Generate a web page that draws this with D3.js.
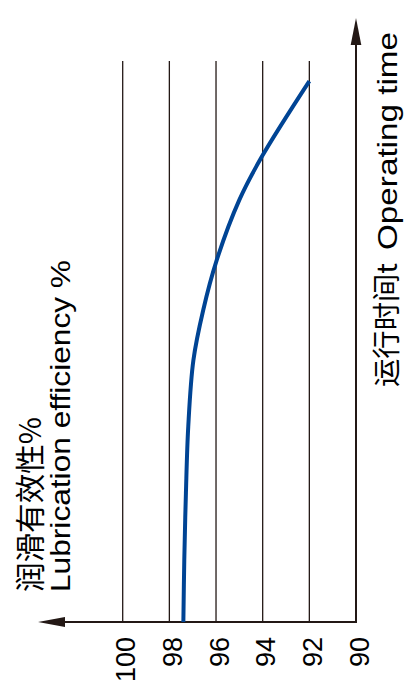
<!DOCTYPE html>
<html>
<head>
<meta charset="utf-8">
<script src="https://cdn.jsdelivr.net/npm/d3@7"></script>
<style>
  body { margin: 0; background: #fff; }
  svg { display: block; }
</style>
</head>
<body>
<div id="chart"></div>
<script>
// chart values (time in arbitrary units, 0 at the bottom axis)
const effTicks = [100, 98, 96, 94, 92, 90];
const timeVals = [0, 1.33, 2.76, 4.18, 5.6, 6.67, 7.74, 9.03, 9.95, 11.57];
const effVals = [97.4, 97.36, 97.29, 97.19, 96.97, 96.55, 95.97, 95.0, 94.04, 92.0];

const width = 405;
const height = 699;
const ink = '#231815';

const svg = d3.select('#chart')
  .append('svg')
  .attr('width', width)
  .attr('height', height);

// efficiency runs left to right (100 -> 90), time runs bottom to top
const x = d3.scaleLinear()
  .domain([100, 90])
  .range([122.7, 356]);
const y = d3.scaleLinear()
  .domain([0, 12])
  .range([622, 61]);

// grid lines
svg.append('g')
  .selectAll('line')
  .data(effTicks.filter(d => d !== 90))
  .join('line')
  .attr('x1', d => x(d))
  .attr('x2', d => x(d))
  .attr('y1', y(0))
  .attr('y2', y(12))
  .attr('stroke', ink)
  .attr('stroke-width', 1.3);

// tick labels through a bottom axis, text turned up
const axis = svg.append('g')
  .attr('transform', `translate(0, ${y(0)})`)
  .call(d3.axisBottom(x).tickValues(effTicks).tickSize(0).tickFormat(d3.format('d')));
axis.select('.domain').remove();
axis.selectAll('text')
  .attr('transform', 'translate(12, 15) rotate(-90)')
  .attr('x', 0)
  .attr('y', 0)
  .attr('dy', 0)
  .attr('text-anchor', 'end')
  .attr('fill', '#000')
  .style('font-family', '"Liberation Sans", Arial, sans-serif')
  .style('font-size', '27px');

// axes with arrow heads
const x0 = x(90);
const y0 = y(0);
svg.append('line')
  .attr('x1', x0).attr('x2', 60)
  .attr('y1', y0).attr('y2', y0)
  .attr('stroke', ink).attr('stroke-width', 2);
svg.append('path')
  .attr('d', `M38,${y0} L65,${y0 - 5} L65,${y0 + 5} Z`)
  .attr('fill', ink);
svg.append('line')
  .attr('x1', x0).attr('x2', x0)
  .attr('y1', y0 + 1).attr('y2', 40)
  .attr('stroke', ink).attr('stroke-width', 2);
svg.append('path')
  .attr('d', `M${x0},18 L${x0 - 5.3},45 L${x0 + 5.3},45 Z`)
  .attr('fill', ink);

// efficiency curve
const line = d3.line()
  .x(d => x(d[1]))
  .y(d => y(d[0]))
  .curve(d3.curveCatmullRom.alpha(0.5));
svg.append('path')
  .datum(timeVals.map((t, i) => [t, effVals[i]]))
  .attr('d', line)
  .attr('fill', 'none')
  .attr('stroke', '#004494')
  .attr('stroke-width', 4);

// titles, rotated to read bottom to top
function vText (tx, ty, str, len, family, size) {
  svg.append('text')
    .attr('transform', `translate(${tx}, ${ty}) rotate(-90)`)
    .attr('text-anchor', 'start')
    .attr('textLength', len)
    .attr('lengthAdjust', 'spacingAndGlyphs')
    .attr('fill', '#000')
    .style('font-family', family)
    .style('font-size', size + 'px')
    .text(str);
}
const cjk = '"Noto Sans CJK SC", sans-serif';
const latin = '"Liberation Sans", Arial, sans-serif';
vText(41, 592, '润滑有效性%', 175, cjk, 30);
vText(70, 592, 'Lubrication efficiency %', 332, latin, 28);
vText(397, 387, '运行时间t', 124, cjk, 28);
vText(397, 250, 'Operating time', 218, latin, 28);
</script>
</body>
</html>
